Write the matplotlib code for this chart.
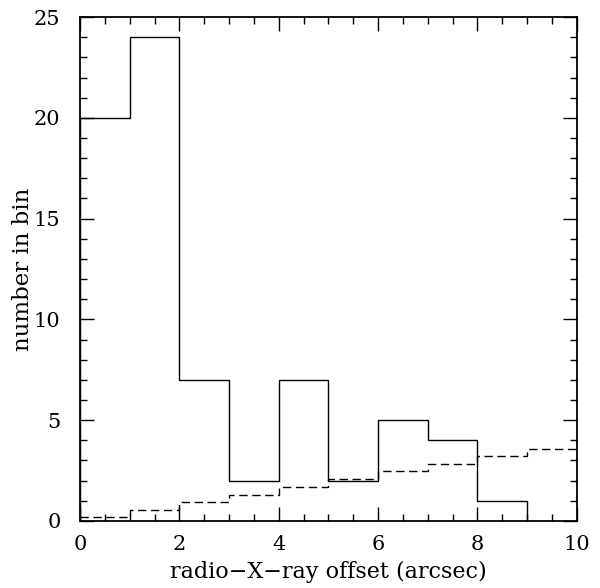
import numpy as np
import matplotlib
matplotlib.use("Agg")
import matplotlib.pyplot as plt
from matplotlib.ticker import MultipleLocator

# bin edges in arcsec
bin_edges = [0, 1, 2, 3, 4, 5, 6, 7, 8, 9, 10]
# observed counts per bin (solid)
observed = [20, 24, 7, 2, 7, 2, 5, 4, 1, 0]
# expected random matches per bin (dashed)
expected = [0.2, 0.56, 0.92, 1.3, 1.7, 2.08, 2.46, 2.82, 3.22, 3.58]

plt.rcParams["font.family"] = ["DejaVu Serif"]

fig = plt.figure(figsize=(6, 5.88), dpi=100)
ax = fig.add_axes([0.1333, 0.114, 0.828, 0.857])

ax.stairs(observed[:9], bin_edges[:10], color="black", linewidth=1.0, baseline=0)
ax.stairs(expected, bin_edges, color="black", linewidth=1.0, linestyle=(0, (6, 3.3)),
          baseline=None)

ax.set_xlim(0, 10)
ax.set_ylim(0, 25)
ax.xaxis.set_major_locator(MultipleLocator(2))
ax.xaxis.set_minor_locator(MultipleLocator(0.5))
ax.yaxis.set_major_locator(MultipleLocator(5))
ax.yaxis.set_minor_locator(MultipleLocator(1))
ax.tick_params(which="both", direction="in", top=True, right=True, labelsize=15)
ax.tick_params(which="major", length=10, width=1)
ax.tick_params(axis="x", which="major", pad=10)
ax.tick_params(axis="y", which="major", pad=14)
ax.tick_params(which="minor", length=5, width=1)
for s in ax.spines.values():
    s.set_linewidth(1.3)

ax.set_xlabel("radio\u2212X\u2212ray offset (arcsec)", fontsize=16, labelpad=5)
ax.set_ylabel("number in bin", fontsize=16.5, labelpad=0)

fig.savefig("out.png", dpi=100)
